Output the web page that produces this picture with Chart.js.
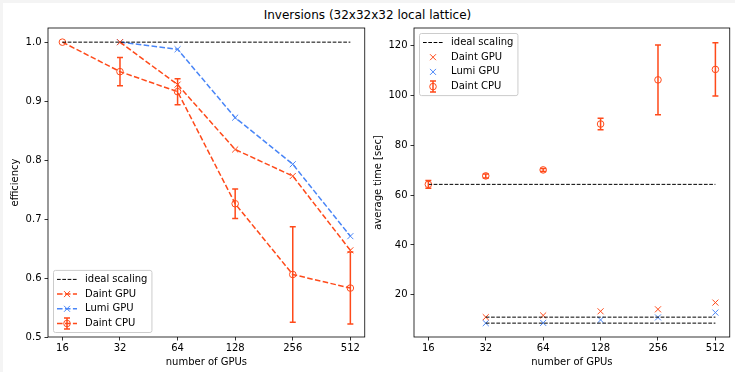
<!DOCTYPE html>
<html>
<head>
<meta charset="utf-8">
<script src="https://cdn.jsdelivr.net/npm/chart.js@4.4.0/dist/chart.umd.min.js"></script>
<style>
  body { margin: 0; background: #f4f4f4; }
  #page { position: absolute; left: 3px; top: 3px; width: 732px; height: 369px; background: #fff; }
  #title { position: absolute; left: 0; top: 8px; width: 735px; text-align: center;
           font: 12px "DejaVu Sans"; line-height: 15px; color: #000; }
  canvas { position: absolute; top: 0; }
</style>
</head>
<body>
<div id="page"></div>
<div id="title">Inversions (32x32x32 local lattice)</div>
<canvas id="eff-chart" style="left:0px"></canvas>
<canvas id="time-chart" style="left:370px"></canvas>
<script>
// data
const gpus = [16, 32, 64, 128, 256, 512];
const seriesNames = ["ideal scaling", "Daint GPU", "Lumi GPU", "Daint CPU"];

const effIdeal = [1, 1, 1, 1, 1, 1];
const effDaintGpu = [null, 1.0, 0.928, 0.818, 0.773, 0.647];
const effLumiGpu = [null, 1.0, 0.988, 0.872, 0.793, 0.671];
const effDaintCpu = [1.0, 0.950, 0.916, 0.726, 0.606, 0.583];
const effDaintCpuErr = [0, 0.024, 0.022, 0.025, 0.081, 0.061];
const effTicks = [0.5, 0.6, 0.7, 0.8, 0.9, 1.0];

const timeIdealCpu = [64.3, 64.3, 64.3, 64.3, 64.3, 64.3];
const timeIdealDaintGpu = [null, 11.06, 11.06, 11.06, 11.06, 11.06];
const timeIdealLumiGpu = [null, 8.66, 8.66, 8.66, 8.66, 8.66];
const timeDaintGpu = [null, 11.06, 11.75, 13.4, 14.2, 16.9];
const timeLumiGpu = [null, 8.66, 8.75, 9.95, 10.95, 12.9];
const timeDaintCpu = [64.3, 67.7, 70.1, 88.5, 106.2, 110.4];
const timeDaintCpuErr = [1.6, 0.8, 0.6, 2.3, 14.0, 10.7];
const timeTicks = [20, 40, 60, 80, 100, 120];

const ORANGE = "#ff4a1a";
const BLUE = "#4a86f7";
const FONT = "DejaVu Sans";

function pts(values) {
  const out = [];
  values.forEach((v, i) => {
    if (v !== null) out.push({ x: Math.log2(gpus[i]), y: v });
  });
  return out;
}

function idealSet(values, label) {
  return {
    label: label, data: pts(values), showLine: true,
    borderColor: "#000", borderWidth: 1, borderDash: [3.7, 1.6],
    pointRadius: 0, pointHoverRadius: 0
  };
}

function markerSet(values, label, color, style, line, errors) {
  return {
    label: label, data: pts(values), showLine: line,
    borderColor: color, borderWidth: 1.5, borderDash: [5.55, 2.4],
    pointStyle: style, pointRadius: style === "circle" ? 3.3 : 4.25,
    pointBorderColor: color, pointBackgroundColor: "rgba(0,0,0,0)",
    pointBorderWidth: 1, errors: errors
  };
}

// error bars, frame and legend
const extras = {
  id: "extras",
  afterDatasetsDraw(chart) {
    const ctx = chart.ctx;
    const ys = chart.scales.y, xs = chart.scales.x;
    chart.data.datasets.forEach(ds => {
      if (!ds.errors) return;
      ctx.save();
      ctx.strokeStyle = ds.borderColor;
      ctx.lineWidth = 1.5;
      ds.data.forEach((p, i) => {
        const e = ds.errors[i];
        if (!e) return;
        const px = xs.getPixelForValue(p.x);
        const y1 = ys.getPixelForValue(p.y + e);
        const y2 = ys.getPixelForValue(p.y - e);
        ctx.beginPath();
        ctx.moveTo(px, y1); ctx.lineTo(px, y2);
        ctx.moveTo(px - 3, y1); ctx.lineTo(px + 3, y1);
        ctx.moveTo(px - 3, y2); ctx.lineTo(px + 3, y2);
        ctx.stroke();
      });
      ctx.restore();
    });
  },
  afterDraw(chart, args, opts) {
    const ctx = chart.ctx;
    const a = chart.chartArea;
    ctx.save();
    ctx.strokeStyle = "#000";
    ctx.lineWidth = 0.8;
    ctx.strokeRect(a.left, a.top, a.right - a.left, a.bottom - a.top);

    // legend
    const items = opts.items;
    ctx.font = "10px '" + FONT + "'";
    let tw = 0;
    items.forEach(it => { tw = Math.max(tw, ctx.measureText(it.label).width); });
    const rowH = 14.7;
    const w = 32 + tw + 4;
    const h = 8 + rowH * items.length - 4.7;
    const bx = a.left + 5;
    const by = opts.corner === "top" ? a.top + 5 : a.bottom - 5 - h;
    ctx.fillStyle = "rgba(255,255,255,0.8)";
    ctx.strokeStyle = "#cccccc";
    ctx.lineWidth = 1;
    ctx.beginPath();
    ctx.roundRect(bx + 0.5, by + 0.5, w, h, 2);
    ctx.fill();
    ctx.stroke();
    items.forEach((it, k) => {
      const cy = by + 4 + 5 + k * rowH + 0.5;
      const hx = bx + 4, hm = bx + 14;
      ctx.strokeStyle = it.color;
      if (it.line) {
        ctx.lineWidth = it.kind === "ideal" ? 1 : 1.5;
        ctx.setLineDash(it.kind === "ideal" ? [3.7, 1.6] : [5.55, 2.4]);
        ctx.beginPath(); ctx.moveTo(hx, cy); ctx.lineTo(hx + 20, cy); ctx.stroke();
        ctx.setLineDash([]);
      }
      ctx.lineWidth = 1;
      if (it.kind === "x") {
        ctx.beginPath();
        ctx.moveTo(hm - 3, cy - 3); ctx.lineTo(hm + 3, cy + 3);
        ctx.moveTo(hm - 3, cy + 3); ctx.lineTo(hm + 3, cy - 3);
        ctx.stroke();
      } else if (it.kind === "err") {
        ctx.beginPath(); ctx.arc(hm, cy, 3.3, 0, Math.PI * 2); ctx.stroke();
        ctx.lineWidth = 1.5;
        ctx.beginPath();
        ctx.moveTo(hm, cy - 5.5); ctx.lineTo(hm, cy + 5.5);
        ctx.moveTo(hm - 3, cy - 5.5); ctx.lineTo(hm + 3, cy - 5.5);
        ctx.moveTo(hm - 3, cy + 5.5); ctx.lineTo(hm + 3, cy + 5.5);
        ctx.stroke();
      }
      ctx.fillStyle = "#000";
      ctx.textBaseline = "middle";
      ctx.textAlign = "left";
      ctx.fillText(it.label, bx + 32, cy);
    });
    ctx.restore();
  }
};

function makeChart(id, width, datasets, yMin, yMax, yTicks, yTitle, yWidth, titlePad, padRight, legend) {
  const canvas = document.getElementById(id);
  canvas.width = width; canvas.height = 372;
  canvas.style.width = width + "px"; canvas.style.height = "372px";
  return new Chart(canvas.getContext("2d"), {
    type: "scatter",
    data: { datasets: datasets },
    plugins: [extras],
    options: {
      responsive: false,
      animation: false,
      events: [],
      layout: { padding: { top: 28, right: padRight, bottom: 0, left: 0 } },
      plugins: { legend: { display: false }, tooltip: { enabled: false }, extras: legend },
      scales: {
        x: {
          type: "linear", min: 3.75, max: 9.25,
          afterBuildTicks: s => { s.ticks = gpus.map(g => ({ value: Math.log2(g) })); },
          afterFit: s => { s.height = 35; },
          grid: { display: true, drawOnChartArea: false, drawTicks: true, tickLength: 3.5, tickColor: "#000", tickWidth: 0.8 },
          border: { display: false },
          ticks: { color: "#000", font: { family: FONT, size: 10 }, padding: 2,
                   maxRotation: 0, callback: v => String(Math.round(Math.pow(2, v))) },
          title: { display: true, text: "number of GPUs", color: "#000",
                   font: { family: FONT, size: 10 }, padding: { top: 0, bottom: 3.5 } }
        },
        y: {
          type: "linear", min: yMin, max: yMax,
          afterBuildTicks: s => { s.ticks = yTicks.map(v => ({ value: v })); },
          afterFit: s => { s.width = yWidth; },
          grid: { display: true, drawOnChartArea: false, drawTicks: true, tickLength: 3.5, tickColor: "#000", tickWidth: 0.8 },
          border: { display: false },
          ticks: { color: "#000", font: { family: FONT, size: 10 }, padding: 3,
                   callback: v => yTicks === effTicks ? v.toFixed(1) : String(v) },
          title: { display: true, text: yTitle, color: "#000",
                   font: { family: FONT, size: 10 }, padding: { top: titlePad, bottom: 0 } }
        }
      }
    }
  });
}

makeChart("eff-chart", 370, [
  idealSet(effIdeal, seriesNames[0]),
  markerSet(effDaintGpu, seriesNames[1], ORANGE, "crossRot", true, null),
  markerSet(effLumiGpu, seriesNames[2], BLUE, "crossRot", true, null),
  markerSet(effDaintCpu, seriesNames[3], ORANGE, "circle", true, effDaintCpuErr)
], 0.5, 1.024, effTicks, "efficiency", 48, 9, 3.5, {
  corner: "bottom",
  items: [
    { label: seriesNames[0], color: "#000", line: true, kind: "ideal" },
    { label: seriesNames[1], color: ORANGE, line: true, kind: "x" },
    { label: seriesNames[2], color: BLUE, line: true, kind: "x" },
    { label: seriesNames[3], color: ORANGE, line: true, kind: "err" }
  ]
});

makeChart("time-chart", 365, [
  idealSet(timeIdealCpu, seriesNames[0]),
  idealSet(timeIdealDaintGpu, seriesNames[0]),
  idealSet(timeIdealLumiGpu, seriesNames[0]),
  markerSet(timeDaintGpu, seriesNames[1], ORANGE, "crossRot", false, null),
  markerSet(timeLumiGpu, seriesNames[2], BLUE, "crossRot", false, null),
  markerSet(timeDaintCpu, seriesNames[3], ORANGE, "circle", false, timeDaintCpuErr)
], 3.1, 127, timeTicks, "average time [sec]", 44, 2, 2.5, {
  corner: "top",
  items: [
    { label: seriesNames[0], color: "#000", line: true, kind: "ideal" },
    { label: seriesNames[1], color: ORANGE, line: false, kind: "x" },
    { label: seriesNames[2], color: BLUE, line: false, kind: "x" },
    { label: seriesNames[3], color: ORANGE, line: false, kind: "err" }
  ]
});
</script>
</body>
</html>
